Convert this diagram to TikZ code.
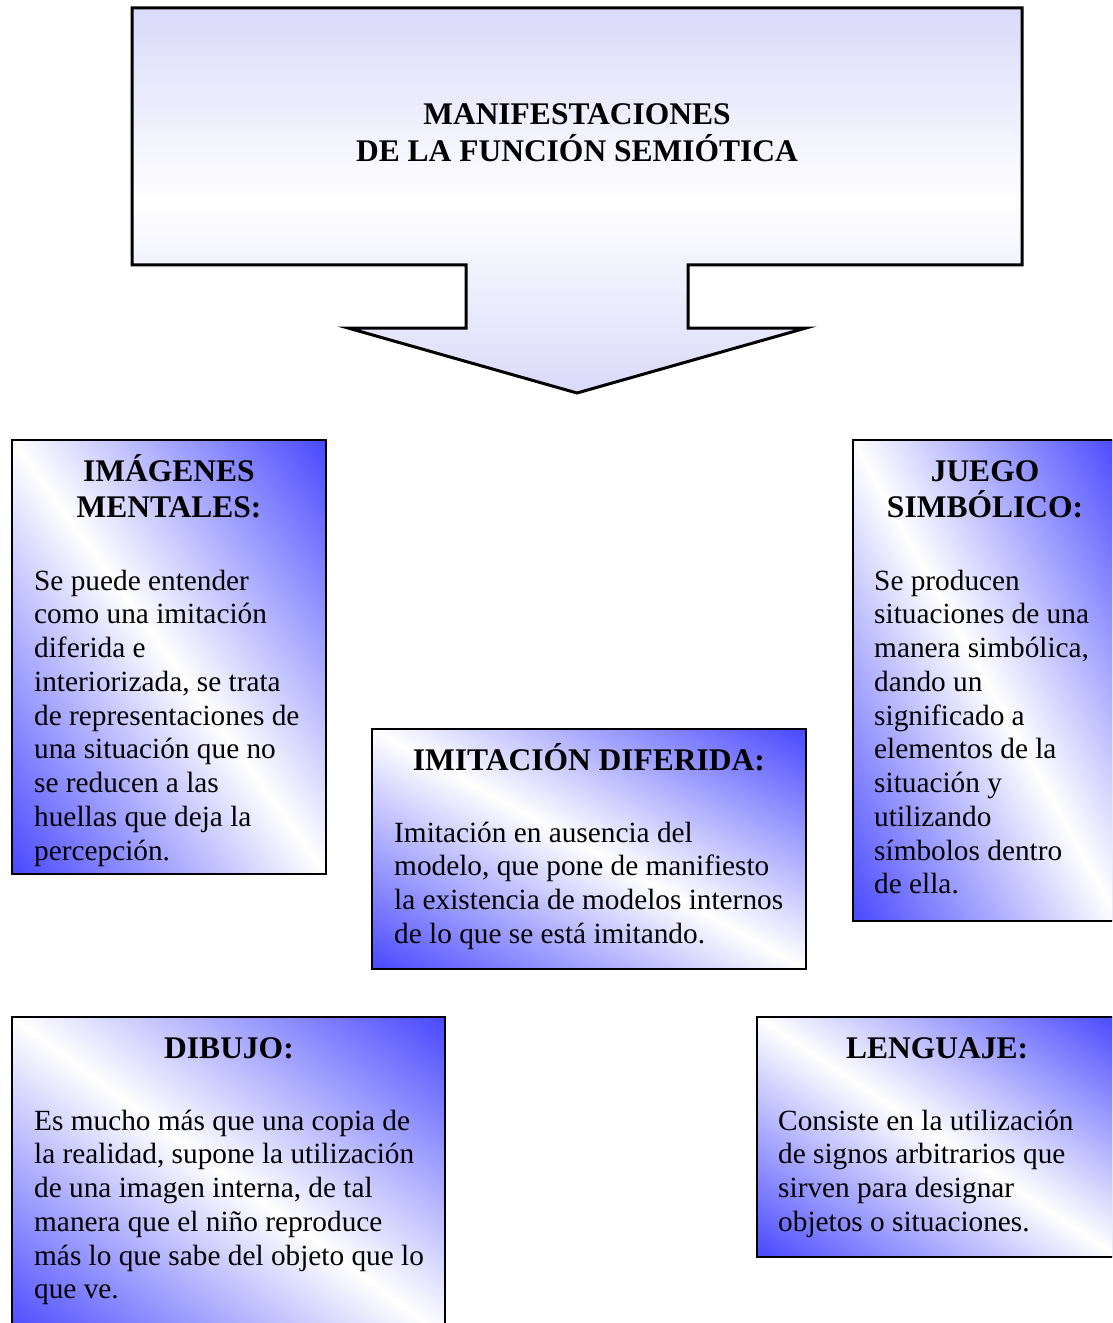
\documentclass[tikz,border=0pt]{standalone}
\usepackage{fontspec}
\setmainfont{Liberation Serif}
\definecolor{boxblue}{RGB}{72,72,255}
\definecolor{lav}{RGB}{218,218,250}
\newcommand{\bodyfnt}{\fontsize{29.3bp}{33.75bp}\selectfont}
\newcommand{\headfnt}{\fontsize{31.5bp}{36.7bp}\selectfont\bfseries}
\newcommand{\bodypar}[1]{\parbox[t]{500bp}{\raggedright #1}}
\newcommand{\headpar}[1]{\parbox[t]{500bp}{\centering #1}}
% #1 name, #2 x, #3 y (top-left, px), #4 width, #5 height
\newcommand{\diagpanel}[5]{%
  \begin{scope}
    \clip (#2,#3) rectangle ++(#4,#5);
    \fill[boxblue] (#2,#3) rectangle ++(#4,#5);
    \pgfmathsetmacro\wa{#4/100}%
    \pgfmathsetmacro\ha{#5/100}%
    \pgfmathsetmacro\dg{100*sqrt(\wa*\wa+\ha*\ha)}%
    \pgfmathsetmacro\dd{100*\wa*\ha/sqrt(\wa*\wa+\ha*\ha)}%
    \pgfmathsetmacro\ang{-atan(\ha/\wa)}%
    \shade[transform canvas={shift={(#2+#4/2,#3+#5/2)}, rotate=\ang},
      top color=boxblue, bottom color=boxblue, middle color=white]
      (-\dg/2-8,-\dd) rectangle (\dg/2+8,\dd);
  \end{scope}
  \node[panel, minimum width=#4bp, minimum height=#5bp] (#1) at (#2,#3) {};
}
\begin{document}
\begin{tikzpicture}[x=1bp,y=-1bp,
  panel/.style={draw=black, line width=2.5bp, inner sep=0pt, outer sep=0pt, anchor=north west},
  headtxt/.style={inner sep=0pt, anchor=base, font=\headfnt},
  bodytxt/.style={inner sep=0pt, anchor=base west, font=\bodyfnt}]
\useasboundingbox (0,0) rectangle (1112,1323);
\fill[white] (0,0) rectangle (1112,1323);
\clip (0,0) rectangle (1112,1323);

% top callout arrow
\shadedraw[line width=3bp, line join=miter, top color=lav, bottom color=lav, middle color=white]
  (132,8) -- (1022,8) -- (1022,265) -- (688,265) -- (688,328) -- (806,328)
  -- (577,393) -- (348,328) -- (466,328) -- (466,265) -- (132,265) -- cycle;
\node[headtxt] (title) at (577,125) {\headpar{MANIFESTACIONES\\DE LA FUNCIÓN SEMIÓTICA}};

% panels
\diagpanel{pimg}{12}{440}{314}{434}
\diagpanel{pjue}{853}{440}{266}{481}
\diagpanel{pimi}{372}{729}{434}{240}
\diagpanel{pdib}{12}{1017}{433}{320}
\diagpanel{plen}{757}{1017}{362}{240}

% IMAGENES MENTALES
\node[headtxt] (himg) at (169,481) {\headpar{IMÁGENES\\MENTALES:}};
\node[bodytxt] (bimg) at (34,590) {\bodypar{Se puede entender\\como una imitación\\diferida e\\interiorizada, se trata\\de representaciones de\\una situación que no\\se reducen a las\\huellas que deja la\\percepción.}};

% JUEGO SIMBOLICO
\node[headtxt] (hjue) at (985,481) {\headpar{JUEGO\\SIMBÓLICO:}};
\node[bodytxt] (bjue) at (874,590) {\bodypar{Se producen\\situaciones de una\\manera simbólica,\\dando un\\significado a\\elementos de la\\situación y\\utilizando\\símbolos dentro\\de ella.}};

% IMITACION DIFERIDA
\node[headtxt] (himi) at (589,770) {\headpar{IMITACIÓN DIFERIDA:}};
\node[bodytxt] (bimi) at (394,842) {\bodypar{Imitación en ausencia del\\modelo, que pone de manifiesto\\la existencia de modelos internos\\de lo que se está imitando.}};

% DIBUJO
\node[headtxt] (hdib) at (229,1058) {\headpar{DIBUJO:}};
\node[bodytxt] (bdib) at (34,1130) {\bodypar{Es mucho más que una copia de\\la realidad, supone la utilización\\de una imagen interna, de tal\\manera que el niño reproduce\\más lo que sabe del objeto que lo\\que ve.}};

% LENGUAJE
\node[headtxt] (hlen) at (937,1058) {\headpar{LENGUAJE:}};
\node[bodytxt] (blen) at (778,1130) {\bodypar{Consiste en la utilización\\de signos arbitrarios que\\sirven para designar\\objetos o situaciones.}};
\end{tikzpicture}
\end{document}
